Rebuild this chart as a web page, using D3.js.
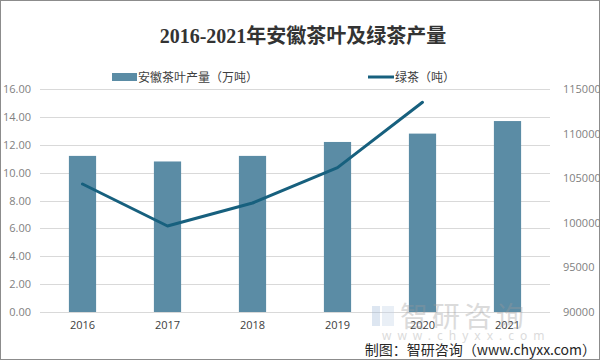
<!DOCTYPE html>
<html><head><meta charset="utf-8">
<script src="https://cdn.jsdelivr.net/npm/d3@7/dist/d3.min.js"></script>
<style>body{margin:0;background:#fff}svg{display:block}</style>
</head><body>
<svg id="c" width="600" height="360"></svg>
<script>
const years = ["2016","2017","2018","2019","2020","2021"];
const teaOutput = [11.2, 10.8, 11.2, 12.2, 12.8, 13.7];          // 万吨
const greenTea = [104350, 99640, 102220, 106180, 113510, null];   // 吨
const leftTicks = [0,2,4,6,8,10,12,14,16];
const rightTicks = [90000,95000,100000,105000,110000,115000];
const title = "2016-2021年安徽茶叶及绿茶产量";
const barLegend = "安徽茶叶产量（万吨）";
const lineLegend = "绿茶（吨）";
const source = "制图：智研咨询（www.chyxx.com）";

const svg = d3.select("#c");
const W=600,H=360;
const m={l:40,r:50,t:89,b:48};
const x = d3.scaleBand().domain(years).range([m.l, W-m.r]).paddingInner(0.68).paddingOuter(0.34);
const yL = d3.scaleLinear().domain([0,16]).range([H-m.b, m.t]);
const yR = d3.scaleLinear().domain([90000,115000]).range([H-m.b, m.t]);

svg.append("rect").attr("x",0.5).attr("y",0.5).attr("width",W-1).attr("height",H-1)
  .attr("fill","#fff").attr("stroke","#8c8c8c");

// gridlines
svg.append("g").selectAll("line").data(leftTicks).join("line")
  .attr("x1",m.l).attr("x2",W-m.r)
  .attr("y1",d=>Math.round(yL(d))+0.5).attr("y2",d=>Math.round(yL(d))+0.5)
  .attr("stroke","#d9d9d9").attr("stroke-width",1);

// left axis
const gl = svg.append("g").attr("transform",`translate(${m.l},0)`)
  .call(d3.axisLeft(yL).tickValues(leftTicks).tickFormat(d3.format(".2f")).tickSize(0).tickPadding(9));
gl.select(".domain").remove();
gl.selectAll("text").attr("fill","#7f7f7f").style("font-family","Open Sans, Noto Sans, sans-serif").style("font-size","11px");

// right axis
const gr = svg.append("g").attr("transform",`translate(${W-m.r},0)`)
  .call(d3.axisRight(yR).tickValues(rightTicks).tickFormat(d3.format("d")).tickSize(0).tickPadding(13));
gr.select(".domain").remove();
gr.selectAll("text").attr("fill","#7f7f7f").style("font-family","Open Sans, Noto Sans, sans-serif").style("font-size","11px");

// x axis labels
const gx = svg.append("g").attr("transform",`translate(0,${H-m.b})`)
  .call(d3.axisBottom(x).tickSize(0).tickPadding(9));
gx.select(".domain").remove();
gx.selectAll("text").attr("fill","#404040").style("font-family","Open Sans, Noto Sans, sans-serif").style("font-size","11px");

// bars
svg.append("g").selectAll("rect").data(years).join("rect")
  .attr("x",d=>x(d)).attr("width",x.bandwidth())
  .attr("y",(d,i)=>yL(teaOutput[i])).attr("height",(d,i)=>yL(0)-yL(teaOutput[i]))
  .attr("fill","#5b8ca5");

// line
const lineData = years.map((d,i)=>({y:d,v:greenTea[i]}));
svg.append("path").datum(lineData)
  .attr("d", d3.line().defined(d=>d.v!=null).x(d=>x(d.y)+x.bandwidth()/2).y(d=>yR(d.v)).curve(d3.curveLinear))
  .attr("fill","none").attr("stroke","#17607e").attr("stroke-width",3).attr("stroke-linecap","round").attr("stroke-linejoin","round");

// title
svg.append("text").attr("x",303).attr("y",43).attr("text-anchor","middle")
  .style("font-family","Liberation Serif, DejaVu Serif, Noto Sans CJK SC, serif").style("font-weight","bold")
  .style("font-size","20px").attr("fill","#333").text(title);

// legend
const lg = svg.append("g").style("font-family","Noto Sans CJK SC, sans-serif").style("font-size","12px").attr("fill","#404040");
lg.append("rect").attr("x",112).attr("y",73).attr("width",25).attr("height",8).attr("fill","#5b8ca5");
lg.append("text").attr("x",138).attr("y",81.5).text(barLegend);
lg.append("line").attr("x1",368).attr("x2",394).attr("y1",77).attr("y2",77).attr("stroke","#17607e").attr("stroke-width",3);
lg.append("text").attr("x",395).attr("y",81.5).text(lineLegend);

// watermark
const wm = svg.append("g").attr("opacity",0.35);
wm.append("rect").attr("x",372).attr("y",306).attr("width",8).attr("height",20).attr("fill","#9fb8d8");
wm.append("rect").attr("x",382).attr("y",306).attr("width",12).attr("height",20).attr("fill","#c3d3e8");
wm.append("text").attr("x",400).attr("y",327).style("font-family","Noto Sans CJK SC, sans-serif").style("font-size","28px")
  .attr("fill","#9a9a9a").attr("letter-spacing","4px").text("智研咨询");
wm.append("text").attr("x",382).attr("y",340).style("font-family","Noto Sans, sans-serif").style("font-size","12px")
  .attr("fill","#9a9a9a").attr("letter-spacing","6px").text("www.chyxx.com");

// source
svg.append("text").attr("x",596).attr("y",355).attr("text-anchor","end")
  .style("font-family","Noto Sans CJK SC, sans-serif").style("font-size","14px").attr("fill","#262626").text(source);
</script>
</body></html>
